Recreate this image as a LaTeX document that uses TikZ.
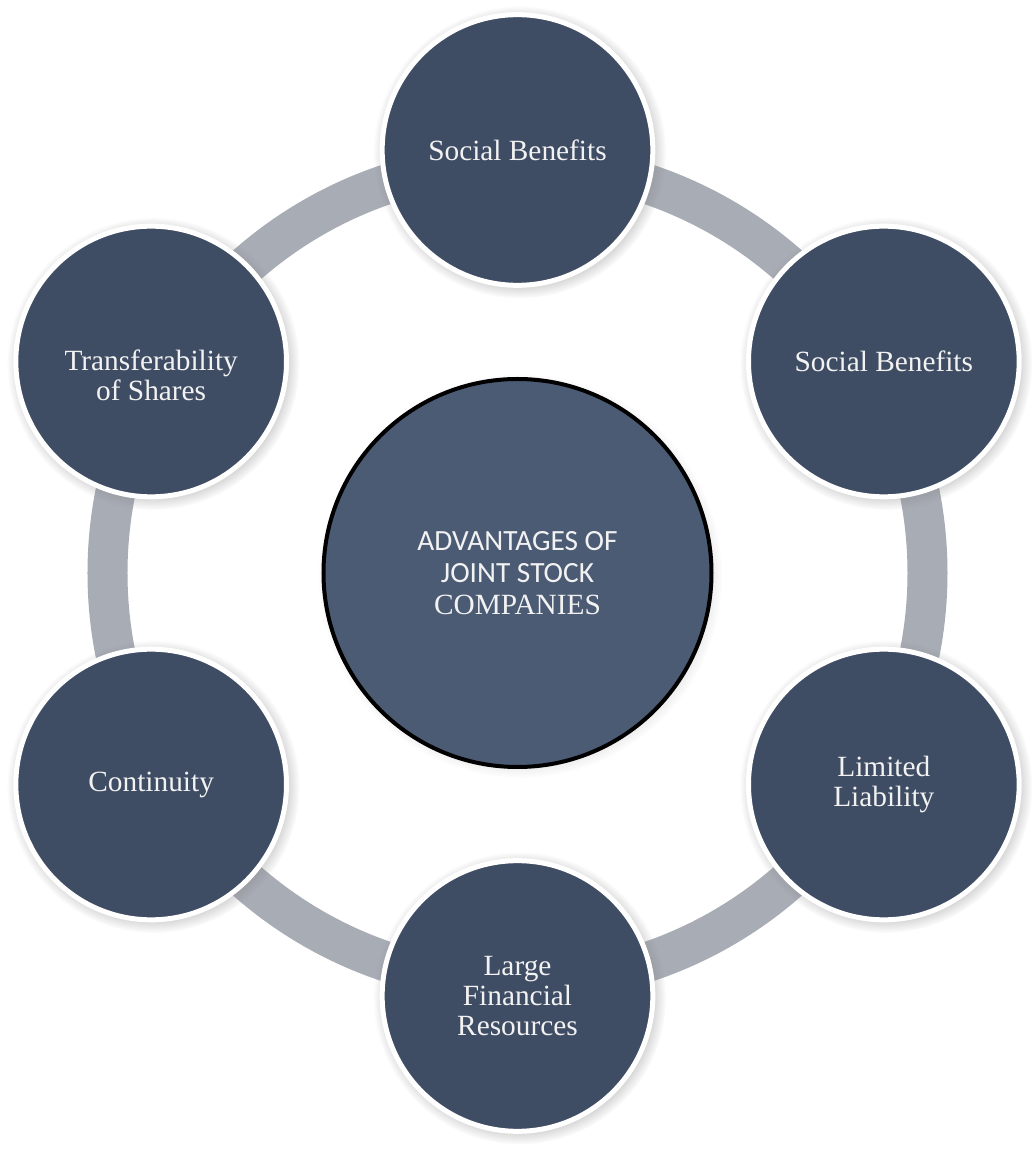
\documentclass[tikz,border=0pt]{standalone}
\usepackage{fontspec}
\setmainfont{Liberation Serif}
\newfontfamily\hubsans{Carlito}
\usetikzlibrary{shadows}
\definecolor{itemblue}{RGB}{63,77,100}
\definecolor{hubblue}{RGB}{75,91,116}
\definecolor{ringgray}{RGB}{168,172,181}
\tikzset{
  item/.style = {circle, fill=itemblue, draw=white, line width=3.75pt,
                 minimum size=#1, inner sep=0pt, text=white!95!black,
                 align=center, font=\fontsize{22pt}{22.5pt}\selectfont,
                 circular drop shadow={shadow scale=1.08, shadow xshift=1.5pt,
                                       shadow yshift=-1.5pt, opacity=0.55}},
  item/.default = 203pt,
  hub/.style = {circle, fill=hubblue, draw=black, line width=3pt,
                minimum size=291pt, inner sep=0pt, text=white!95!black,
                align=center, font=\fontsize{22pt}{24pt}\selectfont,
                circular drop shadow={shadow scale=1.04, shadow xshift=2pt,
                                      shadow yshift=-2pt, opacity=0.35}}
}

\begin{document}
\begin{tikzpicture}[x=0.75pt, y=0.75pt]
	\def \R{423}     % centre to item
	\def \ring{410}  % ring radius
	
	\fill[white] (-517.5,-576) rectangle (517.5,573);
	\useasboundingbox (-517.5,-576) rectangle (517.5,573);
	
	% Ring
	\draw[ringgray, line width=30pt] (0,0) circle (\ring);
	
	% Hub
	\node[hub] (hub) at (0,0) {{\hubsans ADVANTAGES OF}\\{\hubsans JOINT STOCK}\\COMPANIES};
	
	% Items
	\node[item] (social1) at (90:\R) {Social Benefits};
	\node[item] (social2) at (30:\R) {Social Benefits};
	\node[item] (liability) at (-30:\R) {Limited\\Liability};
	\node[item] (resources) at (-90:\R) {Large\\Financial\\Resources};
	\node[item] (continuity) at (-150:\R) {Continuity};
	\node[item, label={[text=white!95!black, align=center, yshift=-10.5pt,
	      font=\fontsize{22pt}{22.5pt}\selectfont]center:{Transferability\\of Shares}}]
	      (shares) at (150:\R) {};
	
\end{tikzpicture}
\end{document}
